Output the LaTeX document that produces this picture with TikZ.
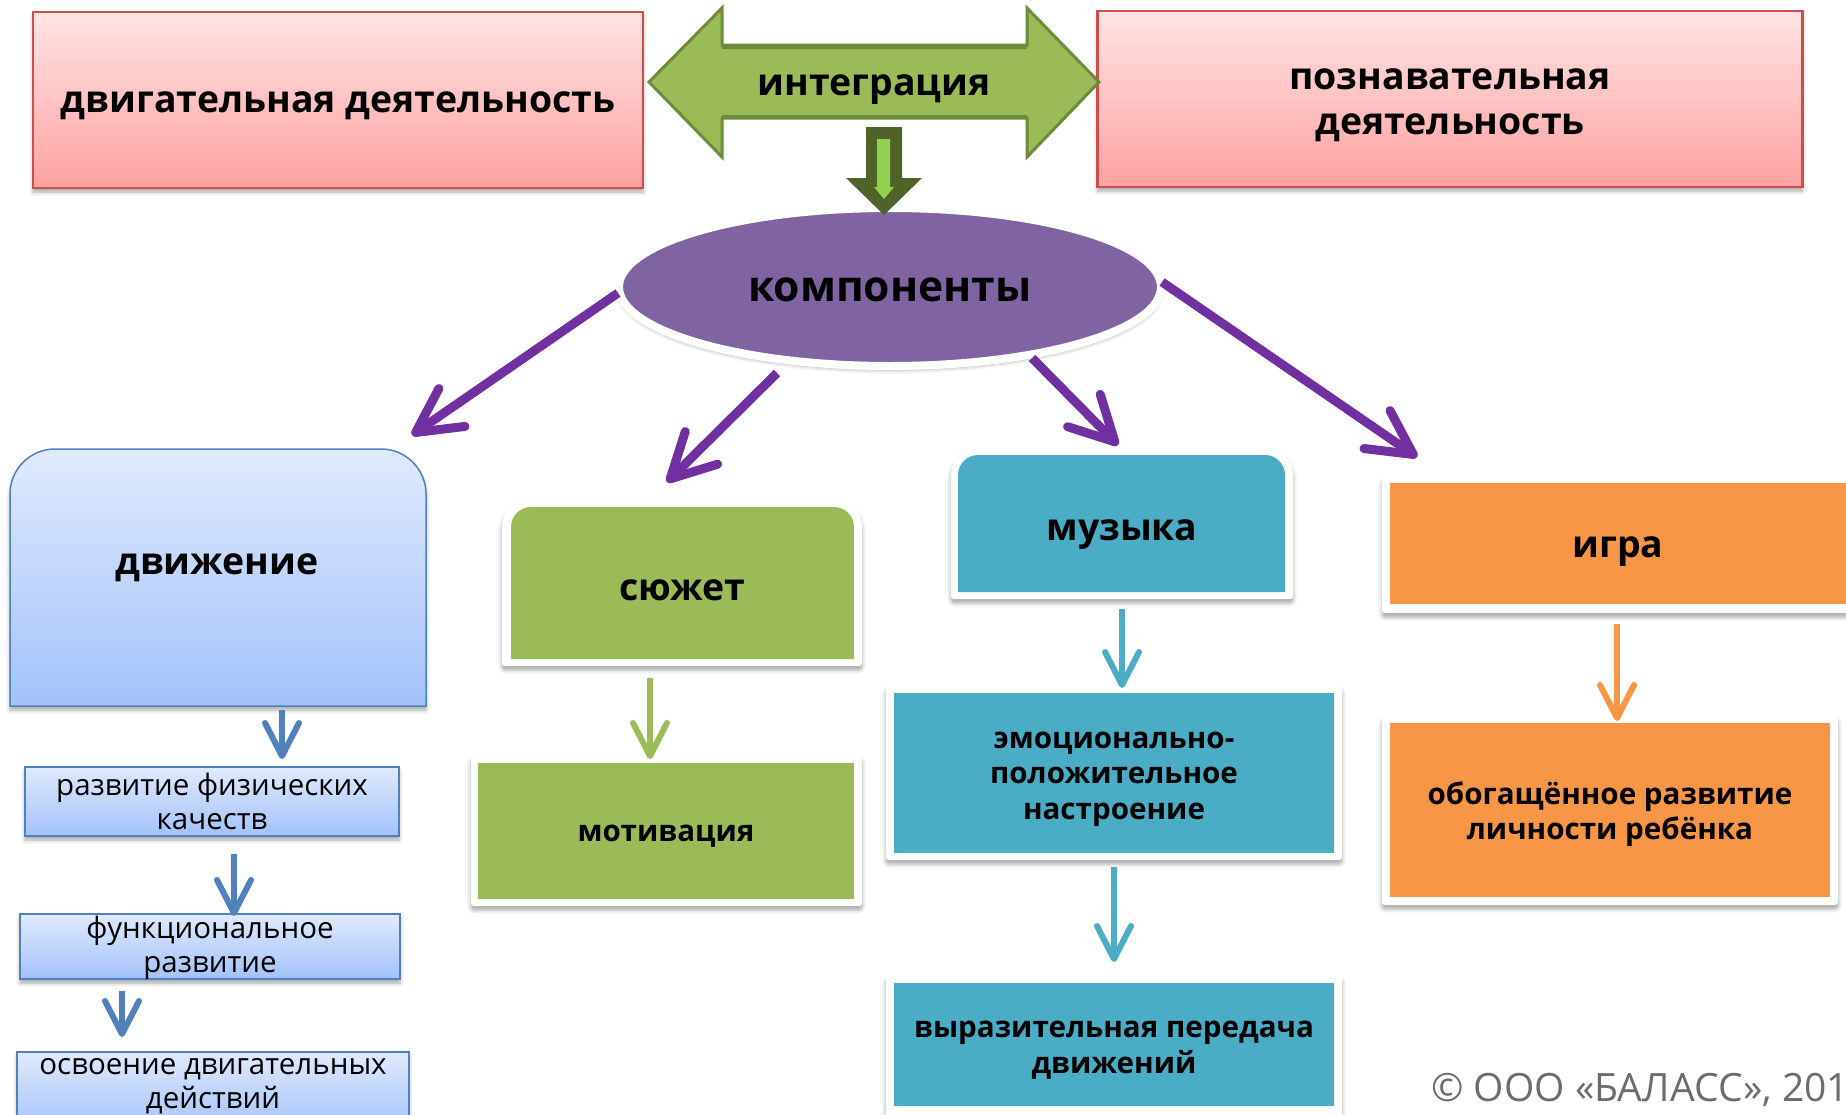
\documentclass[tikz,border=0pt]{standalone}
\usepackage{fontspec}
\setmainfont{Open Sans}
\usetikzlibrary{arrows.meta,shapes.geometric,shadows.blur}
\definecolor{pinkT}{HTML}{FFE4E4}
\definecolor{pinkB}{HTML}{FFA1A1}
\definecolor{pinkD}{HTML}{CB4F4C}
\definecolor{olv}{HTML}{9BBB59}
\definecolor{olvD}{HTML}{6F8A3A}
\definecolor{dkolv}{HTML}{4F6228}
\definecolor{ltgr}{HTML}{92D050}
\definecolor{purp}{HTML}{8064A2}
\definecolor{purpA}{HTML}{7030A0}
\definecolor{bluT}{HTML}{E0EAFD}
\definecolor{bluB}{HTML}{A3C2FA}
\definecolor{bluD}{HTML}{4F81BD}
\definecolor{tealc}{HTML}{4BACC6}
\definecolor{orng}{HTML}{F79646}
\definecolor{cpy}{HTML}{6C6C6C}
\begin{document}
\begin{tikzpicture}[x=1pt,y=-1pt,
  shd/.style={blur shadow={shadow xshift=0pt,shadow yshift=-4pt,shadow blur radius=4pt,shadow opacity=35}},
  tA/.style={font=\fontsize{37.4}{45}\selectfont\bfseries, align=center, inner sep=0pt},
  tB/.style={font=\fontsize{42.6}{50}\selectfont\bfseries, align=center, inner sep=0pt},
  tC/.style={font=\fontsize{29.6}{35.3}\selectfont\bfseries, align=center, inner sep=0pt},
  tR/.style={font=\fontsize{29.5}{34}\selectfont, align=center, inner sep=0pt},
  pinkbox/.style={rectangle, draw=pinkD, line width=2.5pt, top color=pinkT, bottom color=pinkB, shd, inner sep=0pt},
  smallbox/.style={rectangle, draw=bluD, line width=1.5pt, top color=bluT, bottom color=bluB, shd, inner sep=0pt},
  frame/.style={fill=white, shd, inner sep=0pt},
  parr/.style={draw=purpA, line width=9pt, -{Straight Barb[length=44pt,width=46pt,round]}},
  sarr/.style={line width=6pt, -{Straight Barb[length=33pt,width=34pt,round]}}
]
\useasboundingbox (0,0) rectangle (1846,1114);

% ---- top pink boxes ----
\node[pinkbox, minimum width=610pt, minimum height=176pt] (dd) at (338,100) {};
\node[tA] (ddt) at (338,106) {двигательная деятельность};
\node[pinkbox, minimum width=705pt, minimum height=176pt] (pd) at (1450,99) {};
\node[tA] (pdt) at (1450,105) {познавательная\\деятельность};

% ---- double arrow ----
\fill[olv, draw=olvD, line width=3pt, line join=miter]
  (649,82) -- (722,8) -- (722,45) -- (1027,45) -- (1027,8) -- (1099,82)
  -- (1027,157) -- (1027,118) -- (722,118) -- (722,157) -- cycle;
\draw[olvD, line width=3pt] (722,47) -- (1027,47) (722,116) -- (1027,116);
\node[tA] (integ) at (874,90) {интеграция};

% ---- ellipse ----
\node[ellipse, minimum width=542pt, minimum height=158pt, fill=purp, draw=white, line width=8pt, shd, inner sep=0pt] (komp) at (890,287) {};
\node[tB] (kompt) at (890,290) {компоненты};

% ---- block down arrow ----
\fill[dkolv] (866,127) -- (902,127) -- (902,178) -- (922,178) -- (884,215) -- (846,178) -- (866,178) -- cycle;
\fill[ltgr] (877,139) -- (890,139) -- (890,187) -- (894,187) -- (884,199) -- (874,187) -- (877,187) -- cycle;

% ---- движение ----
\fill[shd, top color=bluT, bottom color=bluB, draw=bluD, line width=1.5pt]
  (10,706) [rounded corners=45pt] -- (10,449) -- (426,449) [sharp corners] -- (426,706) -- cycle;
\node[tA] (dv) at (217,568) {движение};

\node[smallbox, minimum width=374pt, minimum height=69pt, tR] (r1) at (212,801.5) {развитие физических\\качеств};
\node[smallbox, minimum width=380pt, minimum height=65pt] (r2) at (210,946.5) {};
\node[tR] (r2t) at (210,947.5) {функциональное\\развитие};
\node[smallbox, minimum width=392pt, minimum height=80pt, anchor=north] (r3) at (213,1051) {};
\node[tR] (r3t) at (213,1086) {освоение двигательных\\действий};

% ---- сюжет ----
\fill[white, shd] (502,666) [rounded corners=26pt] -- (502,500) -- (862,500) [rounded corners=3pt] -- (862,666) -- cycle;
\fill[olv] (511,659) [rounded corners=20pt] -- (511,507) -- (854,507) [sharp corners] -- (854,659) -- cycle;
\node[tA] (sj) at (682,590) {сюжет};

\node[frame, rounded corners=3pt, minimum width=391pt, minimum height=150pt] (mfr) at (666.5,831) {};
\node[fill=olv, minimum width=376pt, minimum height=136pt, inner sep=0pt] (mot) at (666,831) {};
\node[tC] (mott) at (666,836) {мотивация};

% ---- музыка ----
\fill[white, shd] (951,599) [rounded corners=26pt] -- (951,449) -- (1293,449) [rounded corners=3pt] -- (1293,599) -- cycle;
\fill[tealc] (958,592) [rounded corners=20pt] -- (958,455) -- (1285,455) [sharp corners] -- (1285,592) -- cycle;
\node[tA] (muz) at (1122,535) {музыка};

\node[frame, rounded corners=3pt, minimum width=456pt, minimum height=174pt] (efr) at (1114,773) {};
\node[fill=tealc, minimum width=440pt, minimum height=160pt, inner sep=0pt] (emo) at (1114,773) {};
\node[tC] (emot) at (1114,779) {эмоционально-\\положительное\\настроение};

\node[frame, rounded corners=3pt, minimum width=456pt, minimum height=150pt, anchor=north] (vfr) at (1114,975) {};
\node[fill=tealc, minimum width=440pt, minimum height=123pt, anchor=north, inner sep=0pt] (vyr) at (1114,983) {};
\node[tC] (vyrt) at (1114,1050) {выразительная передача\\движений};

% ---- игра ----
\node[frame, rounded corners=3pt, minimum width=480pt, minimum height=136pt, anchor=north west] (ifr) at (1382,477) {};
\node[fill=orng, minimum width=470pt, minimum height=121pt, anchor=north west, inner sep=0pt] (igr) at (1390,483) {};
\node[tA] (igrt) at (1618,552) {игра};

\node[frame, rounded corners=3pt, minimum width=456pt, minimum height=189pt] (ofr) at (1610,810.5) {};
\node[fill=orng, minimum width=440pt, minimum height=174pt, inner sep=0pt] (obo) at (1610,810) {};
\node[tC] (obot) at (1610,814) {обогащённое развитие\\личности ребёнка};

% ---- purple arrows ----
\coordinate (p1s) at (618,293); \coordinate (p1e) at (412,435);
\coordinate (p2s) at (777,373); \coordinate (p2e) at (667,482);
\coordinate (p3s) at (1032,358); \coordinate (p3e) at (1118,445);
\coordinate (p4s) at (1162,282); \coordinate (p4e) at (1417,457);
\draw[parr] (p1s) -- (p1e);
\draw[parr] (p2s) -- (p2e);
\draw[parr] (p3s) -- (p3e);
\draw[parr] (p4s) -- (p4e);

% ---- small arrows ----
\coordinate (b1s) at (282,710); \coordinate (b1e) at (282,759);
\coordinate (b2s) at (234,854); \coordinate (b2e) at (234,916);
\coordinate (b3s) at (122,991); \coordinate (b3e) at (122,1037);
\draw[sarr, draw=bluD] (b1s) -- (b1e);
\draw[sarr, draw=bluD] (b2s) -- (b2e);
\draw[sarr, draw=bluD] (b3s) -- (b3e);
\coordinate (g1s) at (650,678); \coordinate (g1e) at (650,759);
\draw[sarr, draw=olv] (g1s) -- (g1e);
\coordinate (t1s) at (1122,609); \coordinate (t1e) at (1122,688);
\coordinate (t2s) at (1114,867); \coordinate (t2e) at (1114,962);
\draw[sarr, draw=tealc] (t1s) -- (t1e);
\draw[sarr, draw=tealc] (t2s) -- (t2e);
\coordinate (o1s) at (1617,624); \coordinate (o1e) at (1617,721);
\draw[sarr, draw=orng] (o1s) -- (o1e);

% ---- copyright ----
\node[anchor=base west, inner sep=0pt, text=cpy, font=\fontsize{39}{46}\selectfont] (copy) at (1431,1101) {© ООО «БАЛАСС», 201};
\end{tikzpicture}
\end{document}
